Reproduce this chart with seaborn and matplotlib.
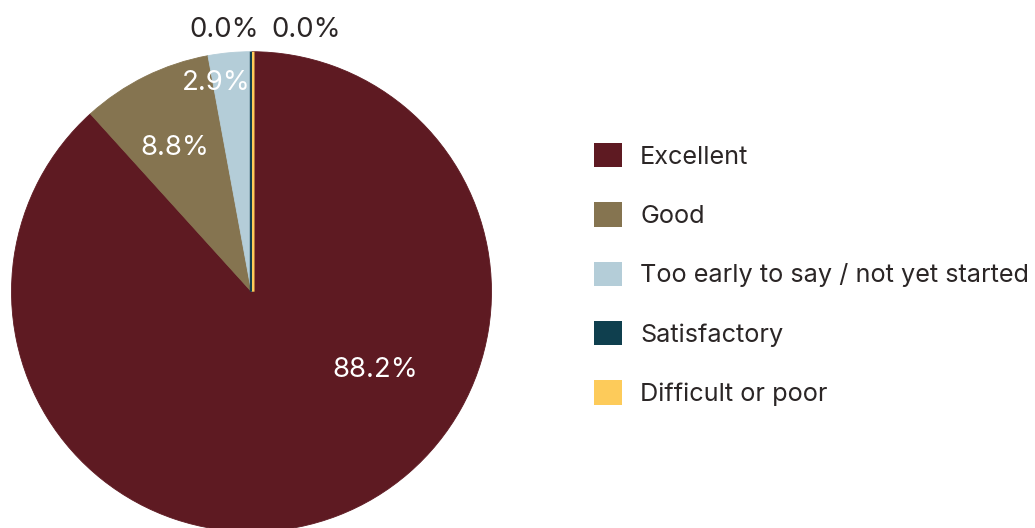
import matplotlib
matplotlib.use("Agg")
import matplotlib.pyplot as plt
import matplotlib.patheffects as pe
from matplotlib.patches import Patch
import seaborn as sns

# Survey responses (percent of respondents)
categories = ["Excellent", "Good", "Too early to say / not yet started",
              "Satisfactory", "Difficult or poor"]
shares = [88.2, 8.8, 2.9, 0.0, 0.0]
colors = ["#5E1A22", "#857450", "#B4CDD8", "#0F3F4E", "#FDCB5A"]

# Label anchors (pie-radius units from the centre) and colours
label_pos = [(0.515, -0.354), (-0.321, 0.570), (-0.148, 0.840),
             (-0.1125, 1.061), (0.227, 1.061)]
label_colors = ["white", "white", "white", "#2B2626", "#2B2626"]

sns.set_theme(style="white")
plt.rcParams["font.family"] = ["Inter", "DejaVu Sans"]

DPI = 100
W, H = 1035, 528
CX, CY, R = 251.5, 291.7, 240.0   # pie centre / radius in pixels

fig = plt.figure(figsize=(W / DPI, H / DPI), dpi=DPI)
ax = fig.add_axes([0, 0, 1, 1])

palette = sns.color_palette(colors)
wedges, _ = ax.pie(shares, colors=palette, startangle=90, counterclock=False,
                   radius=1.0, wedgeprops=dict(linewidth=0.6))
for w, c in zip(wedges, palette):
    w.set_edgecolor(c)

# Zero-size slices are shown as thin strokes along the radius, side by side
stroke_specs = [(3, 2.4, -0.5), (4, 2.5, 1.75)]  # (index, width px, shift px)
for idx, lw_px, shift_px in stroke_specs:
    w = wedges[idx]
    w.set_joinstyle("bevel")
    w.set_capstyle("butt")
    lw_pt = lw_px * 72 / DPI
    w.set_linewidth(lw_pt)
    w.set_path_effects([pe.Stroke(offset=(shift_px * 72 / DPI, 0),
                                  linewidth=lw_pt, foreground=palette[idx])])

for v, (lx, ly), lc in zip(shares, label_pos, label_colors):
    ax.text(lx, ly, f"{v:.1f}%", color=lc, fontsize=19.8,
            ha="center", va="baseline")

ax.set_xlim(-CX / R, (W - CX) / R)
ax.set_ylim(-(H - CY) / R, CY / R)
ax.set_aspect("equal")
ax.axis("off")

handles = [Patch(facecolor=c, edgecolor="none") for c in palette]
fig.legend(handles, categories, loc="upper left",
           bbox_to_anchor=(594 / W, 1 - 143 / H), frameon=False,
           fontsize=18.2, labelcolor="#2B2626", handlelength=1.1,
           handleheight=1.1, handletextpad=0.72, labelspacing=1.33,
           borderpad=0, borderaxespad=0)

fig.savefig("out.png", dpi=DPI)
